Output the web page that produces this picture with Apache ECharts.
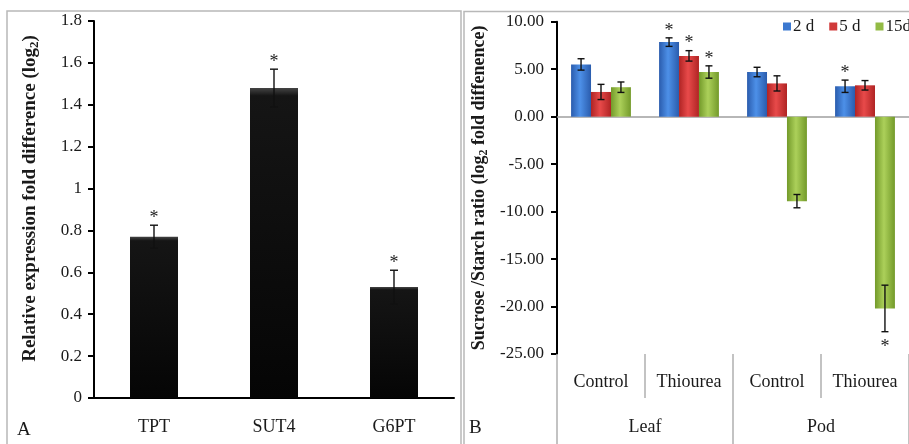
<!DOCTYPE html>
<html>
<head>
<meta charset="utf-8">
<script src="https://cdn.jsdelivr.net/npm/echarts@6/dist/echarts.min.js"></script>
<style>html,body{margin:0;padding:0;background:#fff;}#c{width:909px;height:444px;}</style>
</head>
<body>
<div id="c"></div>
<script>
// ---- Panel A data ----
var leftCats = ['TPT', 'SUT4', 'G6PT'];
var leftValues = [0.77, 1.48, 0.53];
var leftErrors = [0.055, 0.09, 0.08];
var leftStars = [1, 1, 1];
var leftTicks = {min: 0, max: 1.8, interval: 0.2};

// ---- Panel B data ----
var rightCats = ['Control', 'Thiourea', 'Control', 'Thiourea'];
var rightGroups = ['Leaf', 'Pod'];
var seriesNames = ['2 d', '5 d', '15d'];
var values2d = [5.5, 7.85, 4.7, 3.2];
var errors2d = [0.6, 0.45, 0.5, 0.65];
var stars2d = [0, 1, 0, 1];
var values5d = [2.6, 6.4, 3.5, 3.3];
var errors5d = [0.8, 0.55, 0.8, 0.5];
var stars5d = [0, 1, 0, 0];
var values15d = [3.1, 4.7, -8.9, -20.2];
var errors15d = [0.55, 0.65, 0.7, 2.45];
var stars15d = [0, 1, 0, 1];
var rightTicks = {min: -25, max: 10, interval: 5};

var FONT = "'Liberation Serif','Times New Roman',serif";
var TXT = '#1a1a1a';

function grad(edge, mid) {
  return new echarts.graphic.LinearGradient(0, 0, 1, 0, [
    {offset: 0, color: edge}, {offset: 0.45, color: mid}, {offset: 1, color: edge}
  ]);
}
var colors = [grad('#2a5cad', '#4d90e8'), grad('#b02424', '#e84a4a'), grad('#739a2a', '#acd05a')];
var legendColors = ['#3b78d0', '#d03a3a', '#93bb45'];

function errRender(nSeries, idx, gapRatio, capHalf) {
  return function (params, api) {
    var cat = api.value(0), v = api.value(1), e = api.value(2), s = api.value(3);
    var catW = api.size([1, 0])[0];
    var bw = catW * (1 - gapRatio) / nSeries;
    var off = (idx - (nSeries - 1) / 2) * bw;
    var hi = api.coord([cat, v + e]);
    var lo = api.coord([cat, v - e]);
    var x = hi[0] + off;
    var st = {stroke: '#111', lineWidth: 1.4};
    var children = [
      {type: 'line', shape: {x1: x, y1: hi[1], x2: x, y2: lo[1]}, style: st},
      {type: 'line', shape: {x1: x - capHalf, y1: hi[1], x2: x + capHalf, y2: hi[1]}, style: st},
      {type: 'line', shape: {x1: x - capHalf, y1: lo[1], x2: x + capHalf, y2: lo[1]}, style: st}
    ];
    if (s) {
      var ty = v >= 0 ? hi[1] - 7 : lo[1] + 16;
      children.push({type: 'text', style: {text: '*', x: x, y: ty, align: 'center', verticalAlign: 'middle',
        font: '18px ' + FONT, fill: '#222'}});
    }
    return {type: 'group', children: children};
  };
}

function errData(vals, errs, stars) {
  return vals.map(function (v, i) { return [i, v, errs[i], stars[i]]; });
}

var rightVals = [values2d, values5d, values15d];
var rightErrs = [errors2d, errors5d, errors15d];
var rightStars = [stars2d, stars5d, stars15d];

var series = [
  {type: 'bar', xAxisIndex: 0, yAxisIndex: 0, data: leftValues, barWidth: '40%',
    itemStyle: {color: new echarts.graphic.LinearGradient(0, 0, 0, 1, [
      {offset: 0, color: '#444'}, {offset: 0.025, color: '#151515'}, {offset: 1, color: '#050505'}])}},
  {type: 'custom', xAxisIndex: 0, yAxisIndex: 0, z: 5, encode: {x: 0, y: 1},
    renderItem: errRender(1, 0, 0.6, 4), data: errData(leftValues, leftErrors, leftStars)}
];
for (var k = 0; k < 3; k++) {
  series.push({type: 'bar', name: seriesNames[k], xAxisIndex: 1, yAxisIndex: 1, data: rightVals[k],
    barGap: '0%', barCategoryGap: '32%', itemStyle: {color: colors[k]}});
}
for (var k2 = 0; k2 < 3; k2++) {
  series.push({type: 'custom', xAxisIndex: 1, yAxisIndex: 1, z: 5, encode: {x: 0, y: 1},
    renderItem: errRender(3, k2, 0.32, 3.5), data: errData(rightVals[k2], rightErrs[k2], rightStars[k2])});
}

var labelStyle = {fontFamily: FONT, fontSize: 17, color: TXT};

var option = {
  animation: false,
  backgroundColor: '#fff',
  graphic: [
    {type: 'rect', shape: {x: 7, y: 11, width: 454, height: 445}, style: {fill: 'none', stroke: '#b8b8b8', lineWidth: 1.5}, silent: true},
    {type: 'rect', shape: {x: 464, y: 11.5, width: 460, height: 445}, style: {fill: 'none', stroke: '#b8b8b8', lineWidth: 1.5}, silent: true},
    {type: 'text', left: 17, top: 421, style: {text: 'A', font: '19px ' + FONT, fill: TXT}},
    {type: 'text', left: 469, top: 419, style: {text: 'B', font: '19px ' + FONT, fill: TXT}}
  ],
  legend: {
    data: seriesNames.map(function (n, i) { return {name: n, itemStyle: {color: legendColors[i]}}; }),
    left: 783, top: 18, width: 300, padding: 0, orient: 'horizontal', icon: 'rect',
    itemWidth: 8, itemHeight: 8, itemGap: 15,
    textStyle: {fontFamily: FONT, fontSize: 17, color: TXT, padding: [0, 0, 0, -3]}
  },
  grid: [
    {left: 94, right: 455, top: 21, bottom: 46},
    {left: 557, right: -4, top: 21.7, bottom: 90}
  ],
  xAxis: [
    {gridIndex: 0, type: 'category', data: leftCats,
      axisLine: {lineStyle: {color: '#000', width: 2}},
      axisTick: {length: 6, lineStyle: {color: '#000', width: 2}},
      axisLabel: {margin: 20, fontSize: 18, fontFamily: FONT, color: TXT}},
    {gridIndex: 1, type: 'category', data: rightCats, position: 'bottom',
      axisLine: {onZero: true, lineStyle: {color: '#a0a0a0', width: 1.5}},
      axisTick: {length: 4, lineStyle: {color: '#a0a0a0', width: 1.5}},
      axisLabel: {show: false}},
    {gridIndex: 1, type: 'category', data: rightCats, position: 'bottom', offset: 0,
      axisLine: {show: false, onZero: false},
      axisTick: {show: true, length: 44, lineStyle: {color: '#b0b0b0', width: 1.5}},
      axisLabel: {margin: 19, fontFamily: FONT, fontSize: 18, color: TXT}},
    {gridIndex: 1, type: 'category', data: rightGroups, position: 'bottom', offset: 0,
      axisLine: {show: false, onZero: false},
      axisTick: {show: true, length: 92, lineStyle: {color: '#b0b0b0', width: 1.5}},
      axisLabel: {margin: 64, fontFamily: FONT, fontSize: 18, color: TXT}}
  ],
  yAxis: [
    {gridIndex: 0, type: 'value', min: leftTicks.min, max: leftTicks.max, interval: leftTicks.interval,
      splitLine: {show: false},
      axisLine: {show: true, lineStyle: {color: '#000', width: 2}},
      axisTick: {show: true, length: 6, lineStyle: {color: '#000', width: 2}},
      axisLabel: Object.assign({margin: 12}, labelStyle),
      name: '{b|Relative expression fold difference (log}{s|2}{b|)}',
      nameLocation: 'middle', nameGap: 53,
      nameTextStyle: {padding: [0, 0, 0, 22], rich: {
        b: {fontFamily: FONT, fontSize: 19, fontWeight: 'bold', color: TXT, lineHeight: 22},
        s: {fontFamily: FONT, fontSize: 13, fontWeight: 'bold', color: TXT, lineHeight: 13, verticalAlign: 'bottom'}}}},
    {gridIndex: 1, type: 'value', min: rightTicks.min, max: rightTicks.max, interval: rightTicks.interval,
      splitLine: {show: false},
      axisLine: {show: true, lineStyle: {color: '#000', width: 2}},
      axisTick: {show: true, length: 6, lineStyle: {color: '#000', width: 2}},
      axisLabel: Object.assign({margin: 13, formatter: function (v) { return v.toFixed(2); }}, labelStyle),
      name: '{b|Sucrose /Starch ratio (log}{s|2}{b| fold diffenence)}',
      nameLocation: 'middle', nameGap: 67,
      nameTextStyle: {rich: {
        b: {fontFamily: FONT, fontSize: 18, fontWeight: 'bold', color: TXT, lineHeight: 22},
        s: {fontFamily: FONT, fontSize: 12, fontWeight: 'bold', color: TXT, lineHeight: 12, verticalAlign: 'bottom'}}}}
  ],
  series: series
};
var chart = echarts.init(document.getElementById('c'), null, {renderer: 'canvas'});
chart.setOption(option);
</script>
</body>
</html>
